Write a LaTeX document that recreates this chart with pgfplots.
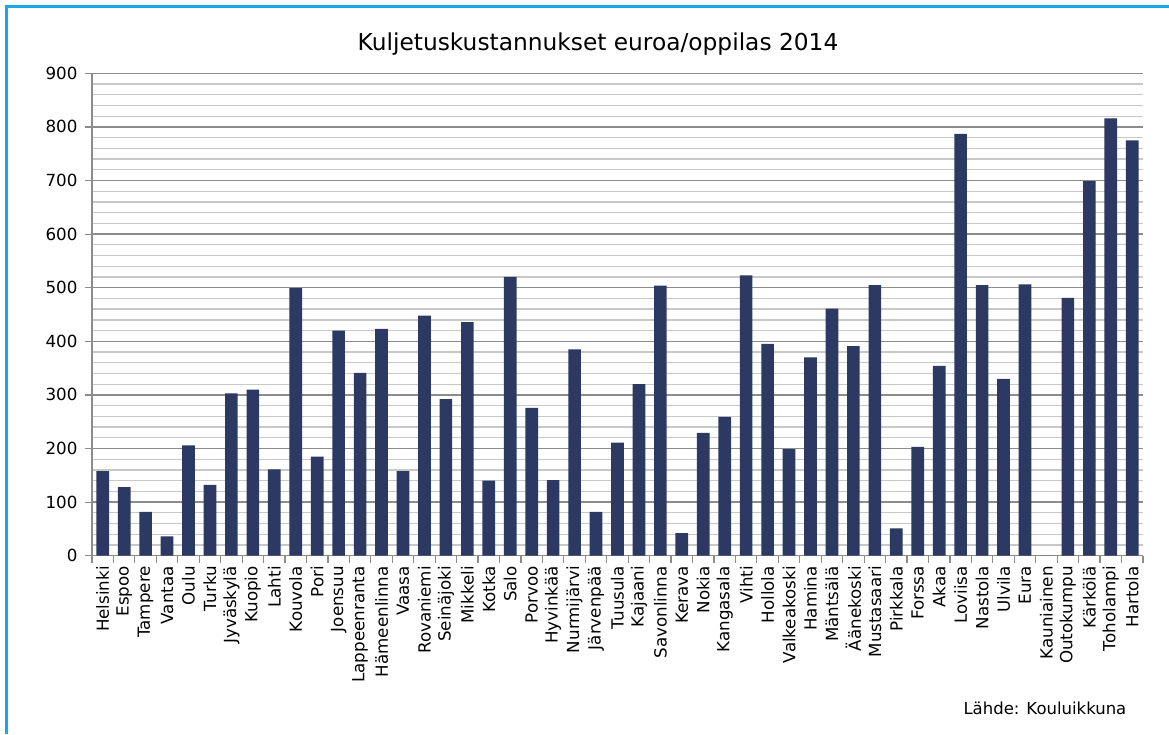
\documentclass[border=0pt]{standalone}
\usepackage{fontspec}
\setmainfont{DejaVu Sans}
\usepackage{pgfplots}
\pgfplotsset{compat=1.18}
\definecolor{barcol}{RGB}{44,58,99}
\definecolor{framecol}{RGB}{24,168,232}
\definecolor{majgrid}{RGB}{140,140,140}
\definecolor{mingrid}{RGB}{200,200,200}
\begin{document}
\begin{tikzpicture}[x=1pt,y=1pt]
\useasboundingbox (0,0) rectangle (1169,734);
\fill[white] (0,0) rectangle (1169,734);
\draw[framecol, line width=3pt] (6.5,0) -- (6.5,727.5) -- (1169,727.5);
\begin{axis}[
  at={(92pt,178.3pt)}, anchor=south west,
  scale only axis, width=1051pt, height=482.4pt,
  xmin=-0.5, xmax=48.5, ymin=0, ymax=900,
  ytick={0,100,...,900}, minor y tick num=4,
  xtick={0,...,48},
  minor xtick={-0.5,0.5,...,48.5},
  xticklabels={Helsinki,Espoo,Tampere,Vantaa,Oulu,Turku,Jyväskylä,Kuopio,Lahti,Kouvola,Pori,Joensuu,Lappeenranta,Hämeenlinna,Vaasa,Rovaniemi,Seinäjoki,Mikkeli,Kotka,Salo,Porvoo,Hyvinkää,Nurmijärvi,Järvenpää,Tuusula,Kajaani,Savonlinna,Kerava,Nokia,Kangasala,Vihti,Hollola,Valkeakoski,Hamina,Mäntsälä,Äänekoski,Mustasaari,Pirkkala,Forssa,Akaa,Loviisa,Nastola,Ulvila,Eura,Kauniainen,Outokumpu,Kärkölä,Toholampi,Hartola},
  axis lines=left,
  axis line style={-, draw=majgrid, line width=1.5pt},
  tick align=outside,
  major tick length=7pt, minor tick length=7pt,
  tick style={majgrid, line width=1.2pt},
  minor y tick style={draw=none},
  major x tick style={draw=none},
  ymajorgrids, yminorgrids,
  major grid style={majgrid, line width=1.3pt},
  minor grid style={mingrid, line width=1.3pt},
  /pgf/number format/assume math mode=true,
  tick label style={font=\fontsize{16.7}{19}\selectfont, black},
  y tick label style={xshift=-4pt},
  x tick label style={rotate=90, anchor=east},
]
\addplot[ybar, bar width=0.59, fill=barcol, draw=none] coordinates {
(0,158) (1,128) (2,82) (3,36) (4,206) (5,132) (6,303) (7,310) (8,161) (9,499)
(10,185) (11,420) (12,341) (13,423) (14,158) (15,448) (16,292) (17,436) (18,140) (19,520)
(20,276) (21,141) (22,385) (23,82) (24,211) (25,320) (26,504) (27,42) (28,229) (29,259)
(30,523) (31,395) (32,199) (33,370) (34,461) (35,391) (36,505) (37,51) (38,203) (39,354)
(40,787) (41,505) (42,330) (43,506) (44,0) (45,481) (46,699) (47,816) (48,775)
};
\end{axis}
\node[font=\fontsize{23.3}{27}\selectfont] at (598,690) {Kuljetuskustannukset euroa/oppilas 2014};
\node[anchor=west, font=\fontsize{16.5}{19}\selectfont] at (960,26) {Lähde: Kouluikkuna};
\end{tikzpicture}
\end{document}
